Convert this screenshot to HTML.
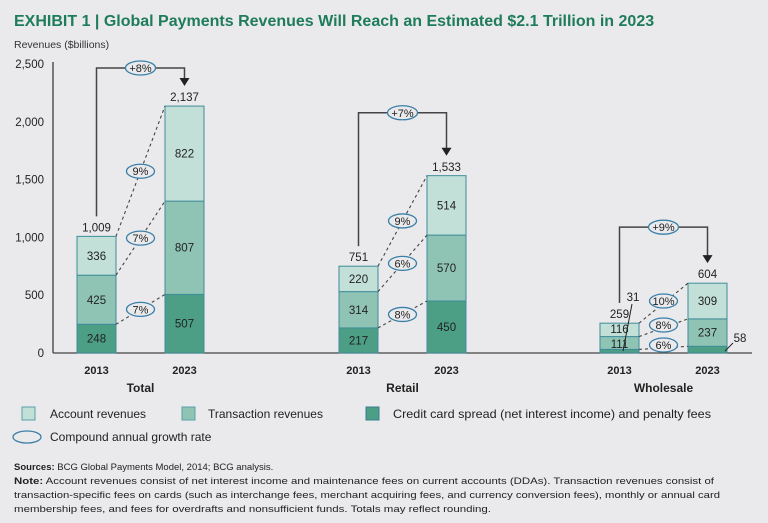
<!DOCTYPE html>
<html><head><meta charset="utf-8"><style>
html,body{margin:0;padding:0;background:#eaeaec;}
svg{display:block;font-family:"Liberation Sans",sans-serif;}
</style></head><body>
<svg id="c" width="768" height="523" viewBox="0 0 768 523">
<text x="14" y="26" font-size="16" font-weight="bold" fill="#1e7c5a">EXHIBIT 1 | Global Payments Revenues Will Reach an Estimated $2.1 Trillion in 2023</text>
<text x="14" y="48" font-size="10.5" fill="#333">Revenues ($billions)</text>
<g id="axis"></g><g id="bars"></g><g id="ann"></g>
<g font-size="12" fill="#222">
<rect x="22" y="407" width="13" height="13" fill="#c3e0d8" stroke="#5a9fa8"/><text x="50" y="418">Account revenues</text>
<rect x="182" y="407" width="13" height="13" fill="#8fc4b4" stroke="#5a9fa8"/><text x="208" y="418">Transaction revenues</text>
<rect x="366" y="407" width="13" height="13" fill="#4c9e85" stroke="#3a7f8f"/><text x="393" y="418" textLength="318" lengthAdjust="spacingAndGlyphs">Credit card spread (net interest income) and penalty fees</text>
<ellipse cx="27" cy="437" rx="14" ry="6" fill="none" stroke="#3a7fa8" stroke-width="1.3"/><text x="50" y="441">Compound annual growth rate</text>
</g>
<g font-size="9.5" fill="#222">
<text x="14" y="470"><tspan font-weight="bold">Sources:</tspan> BCG Global Payments Model, 2014; BCG analysis.</text>
<text x="14" y="484" textLength="700" lengthAdjust="spacingAndGlyphs"><tspan font-weight="bold">Note:</tspan> Account revenues consist of net interest income and maintenance fees on current accounts (DDAs). Transaction revenues consist of</text>
<text x="14" y="498" textLength="706" lengthAdjust="spacingAndGlyphs">transaction-specific fees on cards (such as interchange fees, merchant acquiring fees, and currency conversion fees), monthly or annual card</text>
<text x="14" y="512" textLength="477" lengthAdjust="spacingAndGlyphs">membership fees, and fees for overdrafts and nonsufficient funds. Totals may reflect rounding.</text>
</g>
</svg>
<script>
const groups=["Total","Retail","Wholesale"];
const years=["2013","2023"];
const credit=[[248,507],[217,450],[31,58]];
const transaction=[[425,807],[314,570],[111,237]];
const account=[[336,822],[220,514],[116,309]];
const totals=[[1009,2137],[751,1533],[259,604]];
const cagrSeg=[["7%","7%","9%"],["8%","6%","9%"],["6%","8%","10%"]];
const cagrTotal=["+8%","+7%","+9%"];
const yTicks=[0,500,1000,1500,2000,2500];
const yTickLabels=["0","500","1,000","1,500","2,000","2,500"];
const NS="http://www.w3.org/2000/svg";
const y0=353,yTop=64,maxV=2500;
function y(v){return y0-(v/maxV)*(y0-yTop);}
const groupX=[77,339,600], gap=88, bw=39;
function bx(g,i){return groupX[g]+i*gap;}
function mk(tag,attrs,parent,txt){const e=document.createElementNS(NS,tag);for(const k in attrs)e.setAttribute(k,attrs[k]);if(txt!==undefined)e.textContent=txt;parent.appendChild(e);return e;}
const axis=document.getElementById('axis'),bars=document.getElementById('bars'),ann=document.getElementById('ann');
let l=mk('line',{x1:53,x2:53,y1:y(2500)-2,y2:y0,stroke:'#555','stroke-width':1.5},axis);

l=mk('line',{x1:53,x2:752,y1:y0,y2:y0,stroke:'#444','stroke-width':1.2},axis);

yTicks.forEach((t,i)=>{const e=mk('text',{x:44,y:y(t)+4,'text-anchor':'end','font-size':11.5,fill:'#222'},axis,yTickLabels[i]);
});
const cols=["#4c9e85","#8fc4b4","#c3e0d8"];
groups.forEach((g,gi)=>{
  years.forEach((yr,i)=>{
    const x=bx(gi,i);const vals=[credit[gi][i],transaction[gi][i],account[gi][i]];
    let cum=0;
    vals.forEach((v,s)=>{
      const r=mk('rect',{x:x,y:y(cum+v),width:bw,height:y(cum)-y(cum+v),fill:cols[s],stroke:'#3f8c9a','stroke-width':1},bars);
      
      
      const small=gi===2&&s===0;
      let ty=(y(cum)+y(cum+v))/2+4;
      if(gi===2&&i===0){ty+= s===1?1:-1;}
      if(!small){const t=mk('text',{x:x+bw/2,y:ty,'text-anchor':'middle','font-size':11.5,fill:'#222'},bars,String(v));
      }
      cum+=v;
    });
    const tl=mk('text',{x:x+bw/2,y:y(totals[gi][i])-5,'text-anchor':'middle','font-size':11.5,fill:'#222'},bars,totals[gi][i].toLocaleString('en-US'));
    
    const yl=mk('text',{x:x+bw/2,y:374,'text-anchor':'middle','font-size':11,'font-weight':'bold',fill:'#222'},bars,yr);
    
  });
  const gl=mk('text',{x:bx(gi,0)+(gap+bw)/2,y:392,'text-anchor':'middle','font-size':12,'font-weight':'bold',fill:'#222'},bars,g);
  
  const x1=bx(gi,0)+bw,x2=bx(gi,1);
  let c0=0,c1=0;
  [credit,transaction,account].forEach((arr,s)=>{
    c0+=arr[gi][0];c1+=arr[gi][1];
    const ya=y(c0),yb=y(c1);
    const d=mk('line',{x1:x1,y1:ya,x2:x2,y2:yb,stroke:'#444','stroke-width':1.1,'stroke-dasharray':'3,3'},ann);
    
    let ey=(ya+yb)/2;
    if(gi===2){ey=[345,325,301][s];}
    const cx=(x1+x2)/2;
    const el=mk('ellipse',{cx:cx,cy:ey,rx:14,ry:7,fill:'#eaeaec',stroke:'#3a7fa8','stroke-width':1.3},ann);
    
    const t=mk('text',{x:cx,y:ey+4,'text-anchor':'middle','font-size':11,fill:'#222'},ann,cagrSeg[gi][s]);
    
  });
  const lx=bx(gi,0)+bw/2,rx=bx(gi,1)+bw/2;
  const ly=y(totals[gi][0])-20,ry=y(totals[gi][1])-20;
  const top=Math.min(ly,ry)-[18,43,36][gi];
  const p=mk('path',{d:`M${lx},${ly} V${top} H${rx} V${ry-6}`,fill:'none',stroke:'#444','stroke-width':1.5},ann);
  
  const a=mk('path',{d:`M${rx-5},${ry-8} L${rx+5},${ry-8} L${rx},${ry} Z`,fill:'#222'},ann);
  
  const cx=(lx+rx)/2;
  const el=mk('ellipse',{cx:cx,cy:top,rx:15,ry:7,fill:'#eaeaec',stroke:'#3a7fa8','stroke-width':1.3},ann);
  
  const t=mk('text',{x:cx,y:top+4,'text-anchor':'middle','font-size':11,fill:'#222'},ann,cagrTotal[gi]);
  
});
let t=mk('text',{x:633,y:301,'text-anchor':'middle','font-size':11.5,fill:'#222'},ann,String(credit[2][0]));

let ln=mk('line',{x1:632,y1:304,x2:623,y2:y0-2,stroke:'#222','stroke-width':1},ann);

t=mk('text',{x:740,y:342,'text-anchor':'middle','font-size':11.5,fill:'#222'},ann,String(credit[2][1]));

ln=mk('line',{x1:733,y1:343,x2:725,y2:y0-2,stroke:'#222','stroke-width':1},ann);

</script>
</body></html>
